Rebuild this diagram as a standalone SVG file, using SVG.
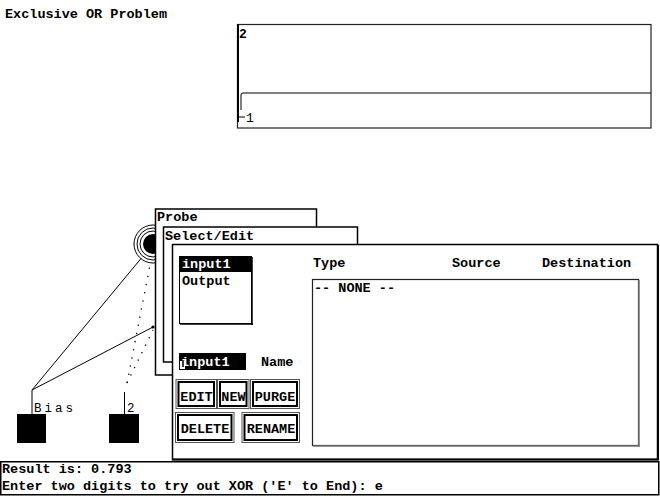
<svg xmlns="http://www.w3.org/2000/svg" width="660" height="496" viewBox="0 0 660 496">
<style>
.t{font-family:"Liberation Mono","DejaVu Sans Mono",monospace;font-weight:bold;font-size:13.5px;fill:#000}
.w{fill:#fff}
.thin{font-family:"Liberation Mono","DejaVu Sans Mono",monospace;font-size:12.5px;fill:#000}
.win{fill:#fff;stroke:#000;stroke-width:1.5}
.bo{fill:#fff;stroke:#555;stroke-width:1}
.bi{fill:none;stroke:#000;stroke-width:2}
.sol{stroke:#000;stroke-width:1;fill:none}
.dot{stroke:#000;stroke-width:1.3;fill:none;stroke-dasharray:1.3 7}
</style>
<rect width="660" height="496" fill="#fff"/>
<text class="t" x="5" y="18">Exclusive OR Problem</text>

<g id="graph">
<rect x="237.5" y="24.5" width="413.5" height="103.5" fill="#fff" stroke="#222" stroke-width="1.2"/>
<line x1="238" y1="24" x2="238" y2="122" stroke="#000" stroke-width="2"/>
<path d="M241,110 V95 Q241,93 243,93 H651" class="sol"/>
<text class="t" x="239" y="38" style="font-size:13px">2</text>
<line x1="237" y1="117" x2="245" y2="117" stroke="#000" stroke-width="1"/>
<text class="t" x="246" y="122" style="font-size:13px;font-weight:normal">1</text>
</g>

<g id="connectors">
<line x1="32" y1="390" x2="141" y2="258.5" class="sol"/>
<line x1="32" y1="390" x2="153" y2="327" class="sol"/>
<circle cx="153" cy="327" r="1.6" fill="#000"/>
<line x1="127" y1="383" x2="150" y2="265" class="dot"/>
<line x1="127" y1="383" x2="153" y2="330" class="dot"/>
</g>

<g id="node-hidden">
<circle cx="153" cy="244" r="10" fill="#000"/>
<circle cx="153" cy="244" r="13" fill="none" stroke="#000" stroke-width="1"/>
<circle cx="153" cy="244" r="16" fill="none" stroke="#000" stroke-width="1"/>
<circle cx="153" cy="244" r="19" fill="none" stroke="#000" stroke-width="1"/>
</g>

<g id="node-bias">
<line x1="32" y1="390" x2="32" y2="414" class="sol"/>
<rect x="17" y="414" width="29" height="29" fill="#000"/>
<text class="thin" x="34" y="412" letter-spacing="3">Bias</text>
</g>

<g id="node-2">
<line x1="124.5" y1="392" x2="124.5" y2="414" class="sol"/>
<rect x="109" y="414" width="30" height="29" fill="#000"/>
<text class="thin" x="127" y="412">2</text>
</g>

<g id="probe">
<rect x="155.5" y="209" width="161" height="166" class="win"/>
<text class="t" x="157" y="221">Probe</text>
</g>

<g id="select-edit">
<rect x="163.5" y="227" width="194" height="135" class="win"/>
<text class="t" x="165" y="240">Select/Edit</text>
</g>

<g id="dialog">
<rect x="172.5" y="244.5" width="485" height="215" class="win"/>
<line x1="658" y1="245" x2="658" y2="460" stroke="#000" stroke-width="2"/>
<line x1="172" y1="459.5" x2="659" y2="459.5" stroke="#000" stroke-width="2"/>

<g id="listbox">
<rect x="179.5" y="256.5" width="72" height="67" fill="#fff" stroke="#000" stroke-width="1"/>
<line x1="252" y1="257" x2="252" y2="325" stroke="#000" stroke-width="1.5"/>
<line x1="180" y1="324" x2="253" y2="324" stroke="#000" stroke-width="1.5"/>
<rect x="180" y="257" width="71" height="15" fill="#000"/>
<text class="t w" x="182" y="268">input1</text>
<text class="t" x="182" y="285">Output</text>
</g>

<g id="name-field">
<rect x="179" y="353" width="67" height="17" fill="#000"/>
<rect x="180" y="361" width="5" height="8" fill="#fff"/>
<text class="t w" x="181" y="366">input1</text>
<line x1="183" y1="361" x2="183" y2="367" stroke="#000" stroke-width="1.5"/>
<text class="t" x="261" y="366">Name</text>
</g>

<g id="btn-edit">
<rect x="176" y="379.5" width="40.5" height="29" class="bo"/>
<rect x="178.5" y="382" width="35.5" height="24" class="bi"/>
<text class="t" x="196.5" y="401" text-anchor="middle">EDIT</text>
</g>
<g id="btn-new">
<rect x="217.5" y="379.5" width="31.5" height="29" class="bo"/>
<rect x="220" y="382" width="26.5" height="24" class="bi"/>
<text class="t" x="233.5" y="401" text-anchor="middle">NEW</text>
</g>
<g id="btn-purge">
<rect x="250.5" y="379.5" width="49" height="29" class="bo"/>
<rect x="253" y="382" width="44" height="24" class="bi"/>
<text class="t" x="275" y="401" text-anchor="middle">PURGE</text>
</g>
<g id="btn-delete">
<rect x="175.5" y="412.5" width="58.5" height="30" class="bo"/>
<rect x="178" y="415" width="53.5" height="25" class="bi"/>
<text class="t" x="205" y="433" text-anchor="middle">DELETE</text>
</g>
<g id="btn-rename">
<rect x="242" y="412.5" width="57.5" height="30" class="bo"/>
<rect x="244.5" y="415" width="52.5" height="25" class="bi"/>
<text class="t" x="271" y="433" text-anchor="middle">RENAME</text>
</g>

<text class="t" x="313" y="267">Type</text>
<text class="t" x="452" y="267">Source</text>
<text class="t" x="542" y="267">Destination</text>

<g id="connections-list">
<rect x="312.5" y="279.5" width="326" height="166" fill="#fff" stroke="#222" stroke-width="1.2"/>
<line x1="639" y1="280" x2="639" y2="446" stroke="#777" stroke-width="1.5"/>
<line x1="313" y1="446" x2="640" y2="446" stroke="#777" stroke-width="1.5"/>
<text class="t" x="314" y="292">-- NONE --</text>
</g>
</g>

<g id="result">
<rect x="0.75" y="461.75" width="658" height="33" fill="#fff" stroke="#000" stroke-width="1.5"/>
<text class="t" x="2" y="473">Result is: 0.793</text>
<text class="t" x="2" y="490">Enter two digits to try out XOR ('E' to End): e</text>
</g>
</svg>
